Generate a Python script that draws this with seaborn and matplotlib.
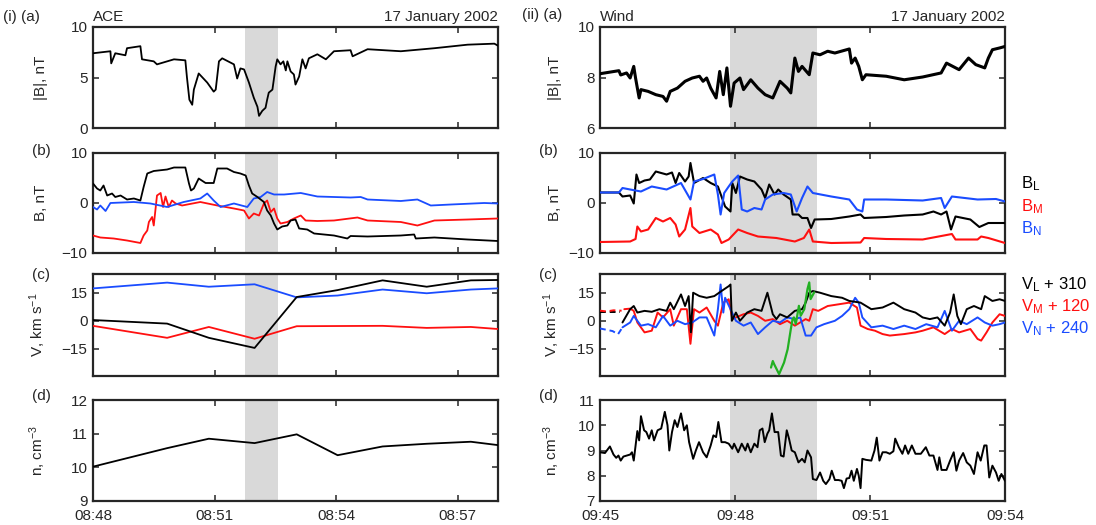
import numpy as np
import pandas as pd
import matplotlib
matplotlib.use("Agg")
import matplotlib.pyplot as plt
import matplotlib.dates as mdates
import seaborn as sns

# ---------------- DATA (minutes after panel start, values) ----------------
ace_start = "2002-01-17 08:48"
wind_start = "2002-01-17 09:45"
ace_shade = [3.76, 4.57]
wind_shade = [2.89, 4.82]

# ACE |B|
ace_b_t = [0.00,0.43,0.45,0.55,0.80,0.84,1.17,1.21,1.50,1.58,
           2.00,2.28,2.32,2.38,2.45,2.49,2.61,2.82,2.98,3.03,
           3.11,3.19,3.48,3.56,3.64,3.73,3.85,3.97,4.06,4.10,
           4.18,4.26,4.30,4.34,4.43,4.51,4.55,4.63,4.70,4.76,
           4.80,4.88,4.96,5.00,5.09,5.17,5.25,5.33,5.54,5.75,
           5.95,6.36,6.41,6.78,7.60,8.43,9.25,9.91,10.0]
ace_b = [7.4,7.6,6.4,7.4,7.2,7.9,8.1,6.8,6.6,6.3,
         6.8,6.7,5.0,2.8,2.3,3.8,5.4,4.5,3.6,3.8,
         6.6,6.9,6.3,4.9,5.9,5.8,4.5,3.0,2.1,1.2,
         1.7,2.0,2.8,3.5,3.8,6.1,6.8,6.3,6.6,5.7,
         6.6,5.6,5.3,4.3,5.1,6.8,5.9,6.9,7.3,6.8,
         7.6,7.7,7.1,7.8,7.6,7.9,8.25,8.35,8.15]

# ACE B components
ace_bl_t = [0,0.10,0.18,0.26,0.35,0.47,0.55,0.68,0.84,1.01,
            1.17,1.25,1.34,1.50,1.83,2.00,2.28,2.37,2.42,2.49,
            2.61,2.78,2.98,3.07,3.31,3.48,3.64,3.77,3.85,3.93,
            4.06,4.22,4.30,4.39,4.47,4.55,4.67,4.80,4.88,5.00,
            5.09,5.29,5.46,5.95,6.28,6.36,6.78,7.60,7.93,7.97,
            8.43,9.25,10.0]
ace_bl = [3.9,2.9,2.5,3.5,1.5,1.9,1.2,1.5,0.7,0.9,
          0.5,3.2,5.9,6.4,6.7,7.1,7.1,3.9,2.5,2.9,
          4.9,4.0,4.0,6.9,6.9,6.2,5.9,5.5,3.5,1.9,
          1.2,0.2,-1.5,-2.5,-4.1,-5.3,-4.7,-4.5,-3.5,-3.3,
          -5.1,-5.3,-6.1,-6.5,-7.1,-6.6,-6.7,-6.5,-6.3,-7.1,
          -6.9,-7.3,-7.6]
ace_bm_t = [0,0.18,0.51,0.84,1.17,1.25,1.34,1.38,1.46,1.50,
            1.54,1.58,1.67,1.73,1.79,1.87,1.95,2.04,2.20,2.65,
            3.07,3.48,3.73,3.85,3.97,4.10,4.22,4.30,4.39,4.47,
            4.55,4.63,4.80,4.96,5.13,5.25,5.54,5.95,6.53,6.78,
            7.60,8.01,8.43,9.25,10.0]
ace_bm = [-6.5,-6.9,-7.1,-7.5,-8.0,-6.5,-5.5,-3.8,-2.8,-4.5,
          -1.5,1.5,2.0,-0.8,1.3,-0.8,0.5,-0.1,-0.5,0.2,
          -0.5,-1.1,-1.5,-3.1,-2.1,-2.5,-0.1,0.5,-1.8,-1.1,
          -3.1,-4.1,-3.8,-3.1,-2.5,-3.5,-3.6,-3.5,-2.9,-3.5,
          -3.8,-4.5,-3.5,-3.3,-3.1]
ace_bn_t = [0,0.10,0.18,0.31,0.43,1.01,1.42,1.83,2.24,2.65,
            2.82,2.98,3.15,3.48,3.81,3.97,4.14,4.30,4.47,4.72,
            5.13,5.54,6.36,6.61,6.78,7.60,8.01,8.34,8.84,9.66,10.0]
ace_bn = [-0.8,-1.3,-0.5,-1.6,0,0.2,-0.1,-0.8,0.2,0.9,
          1.9,0.5,-0.8,-0.1,-0.8,0.9,1.2,2.2,1.7,1.7,
          2.0,1.3,1.1,1.2,0.7,0.4,0.7,-0.5,-0.3,0,-0.1]

# ACE velocity
ace_v_t = [0, 1.83, 2.86, 3.99, 5.03, 6.04, 7.15, 8.24, 9.33, 10.0]
ace_vl = [0.4, -1.5, -9.1, -14.5, 12.7, 16.4, 21.6, 18.2, 21.6, 21.8]
ace_vm = [-2.7, -9.1, -3.3, -9.6, -2.9, -2.8, -2.7, -3.8, -3.3, -4.4]
ace_vn = [17.3, 20.4, 18.2, 19.5, 12.5, 13.5, 16.7, 14.7, 16.7, 17.3]

# ACE density
ace_n = [10.02, 10.57, 10.85, 10.72, 10.98, 10.36, 10.62, 10.70, 10.76, 10.66]

# Wind |B|
wind_b_t = [0,0.42,0.46,0.59,0.67,0.75,0.79,0.83,0.87,0.91,
            1.07,1.24,1.40,1.48,1.56,1.72,1.89,2.05,2.21,2.29,
            2.37,2.46,2.58,2.66,2.74,2.82,2.90,2.98,3.11,3.19,
            3.35,3.51,3.67,3.84,4.00,4.16,4.24,4.33,4.41,4.49,
            4.65,4.73,4.89,5.06,5.22,5.54,5.59,5.67,5.75,5.83,
            5.91,6.36,6.76,7.17,7.58,7.70,7.98,8.19,8.35,8.55,
            8.63,8.72,8.88,9.0]
wind_b = [8.15,8.27,8.1,8.18,7.98,8.44,7.98,7.58,7.19,7.52,
          7.45,7.32,7.25,7.06,7.45,7.58,7.85,7.98,8.05,7.85,
          7.98,7.58,7.19,8.24,7.32,8.38,6.86,7.78,7.98,7.52,
          7.91,7.58,7.32,7.19,7.85,7.58,7.39,8.77,8.24,8.44,
          8.11,8.97,8.9,9.04,8.97,9.13,8.57,8.77,8.44,7.91,
          8.11,8.05,7.91,8.02,8.18,8.57,8.31,8.77,8.51,8.38,
          8.77,9.1,9.17,9.23]

# Wind B components
wind_bl_t = [0,0.42,0.50,0.67,0.75,0.81,0.87,0.99,1.11,1.24,
             1.36,1.48,1.60,1.68,1.76,1.89,1.97,2.01,2.09,2.29,
             2.46,2.62,2.78,2.90,2.94,3.02,3.11,3.27,3.43,3.59,
             3.67,3.76,3.88,3.96,4.08,4.24,4.28,4.41,4.49,4.61,
             4.69,4.77,5.14,5.54,5.79,5.87,6.36,6.76,7.17,7.41,
             7.58,7.70,7.80,7.90,8.23,8.43,8.63,9.0]
wind_bl = [2.1,2.1,1.3,1.5,-0.1,5.7,4.0,4.5,4.7,6.3,
           6.0,5.7,6.1,4.0,6.0,4.3,5.3,8.0,4.0,5.0,
           4.0,3.3,-0.7,-1.7,4.0,2.0,5.3,4.7,4.3,2.7,
           1.0,3.7,1.7,2.7,1.7,0.7,-2.3,-2.3,-3.0,-3.0,
           -5.0,-3.3,-3.2,-2.7,-2.3,-3.0,-2.8,-2.5,-2.3,-1.7,
           -2.3,-1.7,-5.3,-2.7,-3.3,-4.8,-4.0,-4.0]
wind_bm_t = [0,0.67,0.79,0.83,0.91,1.07,1.24,1.40,1.56,1.68,
             1.76,1.89,2.01,2.05,2.21,2.46,2.62,2.70,2.86,3.07,
             3.27,3.51,3.92,4.33,4.53,4.65,4.73,5.14,5.79,5.87,
             6.36,7.17,7.82,7.90,8.39,8.47,8.63,9.0]
wind_bm = [-7.8,-7.7,-7.2,-4.7,-5.7,-5.3,-3.0,-3.7,-3.0,-4.3,
           -6.7,-5.3,-1.0,-4.7,-6.0,-5.3,-6.3,-8.0,-7.3,-5.3,
           -6.0,-6.7,-7.0,-7.7,-7.0,-5.3,-7.7,-8.0,-7.9,-7.0,
           -7.2,-7.3,-6.2,-7.3,-7.3,-6.7,-7.0,-8.0]
wind_bn_t = [0,0.42,0.50,0.67,0.91,1.15,1.48,1.80,2.01,2.09,
             2.29,2.54,2.62,2.68,2.76,2.86,2.94,3.07,3.15,3.27,
             3.43,3.59,3.67,3.84,4.08,4.24,4.37,4.49,4.61,4.73,
             5.14,5.54,5.71,5.83,5.87,6.36,7.17,7.58,7.66,7.82,
             8.39,8.80,9.0]
wind_bn = [2.1,2.1,3.0,2.7,2.3,3.3,2.7,4.0,0.7,4.3,
           4.8,5.7,1.7,-2.3,2.0,3.3,4.3,5.5,-1.3,-1.7,
           -1.0,-1.3,0.7,1.7,2.0,1.7,-1.7,1.0,3.3,2.0,
           1.3,0.7,-1.3,-1.7,0.7,0.7,0.5,1.0,-1.0,1.3,
           0.7,0.8,0.3]

# Wind velocity (offsets removed), dashed gap segments first
wind_gap_l_t = [0.0, 0.45]
wind_gap_l = [4.5, 4.5]
wind_gap_m_t = [0.0, 0.15, 0.30, 0.48]
wind_gap_m = [5.4, 5.0, 5.6, 5.4]
wind_gap_n_t = [0.0, 0.28, 0.40, 0.50]
wind_gap_n = [-4.1, -5.5, -7.2, -3.5]

wind_vl_t = [0.50,0.67,0.75,0.83,0.99,1.15,1.32,1.48,1.56,1.64,
             1.80,1.89,1.97,2.02,2.07,2.21,2.37,2.54,2.70,2.86,
             2.90,2.93,3.02,3.11,3.27,3.43,3.59,3.72,3.84,3.92,
             4.00,4.16,4.33,4.49,4.57,4.65,4.73,4.89,5.14,5.38,
             5.54,5.79,6.03,6.28,6.52,6.76,7.01,7.17,7.33,7.50,
             7.66,7.78,7.86,7.94,8.02,8.15,8.31,8.47,8.55,8.72,
             8.88,9.0]
wind_vl = [-0.9,6.2,7.9,4.4,5.3,4.8,6.2,5.3,9.7,6.2,
           14.1,7.9,13.2,-6.2,15.0,13.2,12.3,13.2,15.9,18.5,
           19.4,0,4.4,0,4.4,6.2,5.3,15.0,3.5,0.9,
           3.5,1.8,5.3,6.2,9.7,15.0,15.9,15.0,13.2,12.3,
           10.6,9.7,6.2,7.1,9.7,6.2,4.4,1.8,0.9,1.8,
           -2.6,4.4,14.1,2.6,-1.8,6.2,7.9,6.2,13.2,10.6,
           11.5,10.6]
wind_vm_t = [0.54,0.67,0.75,0.83,0.99,1.15,1.28,1.40,1.56,1.64,
             1.80,1.93,2.01,2.09,2.21,2.37,2.54,2.62,2.74,2.86,
             2.94,3.02,3.19,3.35,3.51,3.67,3.84,4.00,4.16,4.33,
             4.57,4.65,4.73,4.85,5.06,5.30,5.54,5.71,5.79,5.95,
             6.11,6.28,6.44,6.76,7.01,7.17,7.41,7.66,7.82,7.98,
             8.23,8.39,8.47,8.59,8.72,8.88,9.0]
wind_vm = [6.2,6.5,5.3,-0.9,-6.2,-5.3,4.4,1.8,6.2,-2.6,
           6.2,6.2,-12.3,6.2,4.4,7.1,0,-2.6,9.7,11.5,
           0.9,1.8,3.5,4.4,2.6,0,0.9,-1.8,0,-2.6,
           0.9,0,6.2,5.3,7.9,8.8,9.7,7.1,-2.6,-4.4,
           -5.3,-7.1,-7.9,-7.1,-6.2,-5.3,-3.5,-7.1,-4.4,-6.2,
           -4.4,-9.7,-10.6,-6.2,-0.9,3.5,2.6]
wind_vn_t = [0.50,0.67,0.75,0.91,1.07,1.24,1.40,1.56,1.72,1.89,
             2.05,2.21,2.37,2.54,2.62,2.68,2.74,2.78,2.90,3.02,
             3.19,3.35,3.51,3.67,3.84,4.00,4.16,4.33,4.45,4.57,
             4.69,4.81,4.98,5.22,5.38,5.54,5.67,5.75,5.83,6.03,
             6.28,6.52,6.76,7.01,7.25,7.50,7.66,7.82,7.98,8.15,
             8.39,8.55,8.72,8.88,9.0]
wind_vn = [-3.5,-0.9,2.6,-2.6,-1.8,-3.5,2.6,-2.6,0,-1.8,
           -0.9,1.8,1.8,-7.9,6.2,19.4,4.4,12.3,6.2,0,
           -2.6,-0.9,-7.1,-3.5,0,-0.9,1.8,0.9,1.8,-7.9,
           -7.9,-3.5,-1.8,0,2.6,6.2,12.3,9.7,1.8,-3.5,
           -2.6,-4.4,-2.6,-4.4,-1.8,-3.5,5.3,-5.3,0,-1.8,
           1.8,-0.9,-2.6,-1.8,-0.9]
wind_green_t = [3.80,3.84,3.87,3.98,4.09,4.17,4.24,4.28,4.31,4.35,
                4.42,4.46,4.54,4.61,4.65,4.68,4.76]
wind_green = [-25.0,-21.5,-23.2,-28.5,-22.3,-15.2,-4.5,0.9,1.8,-1.8,
              8.0,2.7,6.2,16.9,20.5,11.6,15.2]

# Wind density
wind_n_t = [0,0.11,0.22,0.30,0.36,0.41,0.46,0.52,0.67,0.71,
            0.75,0.83,0.87,0.91,0.98,1.03,1.09,1.15,1.20,1.28,
            1.36,1.44,1.50,1.54,1.60,1.66,1.72,1.80,1.87,1.93,
            1.98,2.07,2.13,2.20,2.29,2.37,2.46,2.52,2.58,2.63,
            2.70,2.78,2.86,2.94,2.98,3.07,3.15,3.23,3.28,3.35,
            3.43,3.50,3.55,3.61,3.66,3.72,3.76,3.82,3.88,3.96,
            4.02,4.08,4.15,4.20,4.26,4.33,4.41,4.49,4.55,4.61,
            4.69,4.73,4.81,4.89,4.96,5.02,5.10,5.15,5.22,5.30,
            5.37,5.42,5.48,5.54,5.59,5.64,5.71,5.75,5.79,5.83,
            5.91,6.03,6.10,6.15,6.21,6.28,6.36,6.44,6.52,6.56,
            6.64,6.72,6.78,6.85,6.93,7.01,7.13,7.24,7.32,7.41,
            7.50,7.54,7.59,7.70,7.78,7.86,7.92,7.98,8.07,8.15,
            8.23,8.31,8.39,8.46,8.54,8.59,8.65,8.72,8.80,8.86,
            8.92,9.0]
wind_n = [8.93,8.9,9.16,8.84,8.71,8.8,8.6,8.76,8.84,8.93,
          8.6,9.77,9.4,10.36,9.8,9.73,9.47,9.8,9.4,9.8,
          9.87,10.53,10.0,9.0,9.73,10.2,9.93,10.47,9.8,10.0,
          9.33,8.67,9.0,9.33,8.93,8.73,9.2,9.6,9.53,10.13,
          9.33,9.33,9.27,9.07,9.27,8.93,9.27,9.0,9.27,8.93,
          9.27,9.13,9.8,9.87,9.33,9.67,9.8,10.47,9.73,9.73,
          8.8,8.76,9.8,9.47,9.0,8.93,8.53,8.67,8.53,9.0,
          8.73,7.87,7.83,8.13,7.8,7.67,7.87,8.2,7.83,7.83,
          7.8,7.51,7.89,7.91,8.2,7.8,8.27,8.0,7.51,8.67,
          8.63,8.6,9.0,9.51,8.6,8.93,8.93,8.87,8.97,9.47,
          9.13,8.87,9.2,8.87,9.2,8.87,8.87,9.13,8.8,8.8,
          8.23,8.73,8.23,8.23,8.6,8.93,8.2,8.6,8.9,8.53,
          8.4,8.07,8.93,8.6,9.2,9.2,7.93,8.4,8.13,7.8,
          8.07,7.8]

# ---------------- STYLE ----------------
sns.set_style("ticks")
plt.rcParams["font.family"] = ["Liberation Sans", "DejaVu Sans"]
plt.rcParams["mathtext.fontset"] = "custom"
plt.rcParams["mathtext.rm"] = "Liberation Sans"
plt.rcParams["mathtext.it"] = "Liberation Sans:italic"
plt.rcParams["font.size"] = 11

BLACK = "#000000"
RED = "#ff1010"
BLUE = "#1a4cff"
GREEN = "#22b022"
SHADE = "#d9d9d9"

W, H = 1096, 525
fig = plt.figure(figsize=(W / 100, H / 100), dpi=100)

rows = [(27, 128), (153, 253), (274, 376), (400, 501)]
cols = [(93, 498), (600, 1005)]


def make_ax(ci, ri):
    l, r = cols[ci]
    t, b = rows[ri]
    return fig.add_axes([l / W, 1 - b / H, (r - l) / W, (b - t) / H])


def tt(start, mins):
    return pd.Timestamp(start) + pd.to_timedelta(np.asarray(mins, dtype=float), unit="m")


def line(ax, start, t, v, color, lw=1.3, ls="-"):
    sns.lineplot(x=tt(start, t), y=np.asarray(v, dtype=float), ax=ax, color=color,
                 linewidth=lw, linestyle=ls, estimator=None, sort=False, zorder=3)


def style(ax, start, dur, shade, ylim, yticks, bottom):
    t0 = pd.Timestamp(start)
    ax.set_xlim(t0, t0 + pd.Timedelta(minutes=dur))
    ax.axvspan(*tt(start, shade), color=SHADE, lw=0, zorder=0)
    ax.set_ylim(*ylim)
    ax.set_yticks(yticks)
    ax.xaxis.set_major_locator(mdates.MinuteLocator(byminute=range(0, 60, 3)))
    ax.xaxis.set_major_formatter(mdates.DateFormatter("%H:%M"))
    ax.tick_params(direction="in", top=True, right=True, length=4, width=1.1,
                   labelsize=11, pad=4)
    ax.tick_params(axis="x", labelbottom=bottom, pad=6)
    for s in ax.spines.values():
        s.set_linewidth(1.6)
        s.set_visible(True)
    ax.set_xlabel("")


ylabels = ["|B|, nT", "B, nT", r"V, km s$^{-1}$", r"n, cm$^{-3}$"]

# ---------------- ACE (left) ----------------
axs = [make_ax(0, r) for r in range(4)]
line(axs[0], ace_start, ace_b_t, ace_b, BLACK)
line(axs[1], ace_start, ace_bm_t, ace_bm, RED)
line(axs[1], ace_start, ace_bn_t, ace_bn, BLUE)
line(axs[1], ace_start, ace_bl_t, ace_bl, BLACK)
line(axs[2], ace_start, ace_v_t, ace_vn, BLUE)
line(axs[2], ace_start, ace_v_t, ace_vm, RED)
line(axs[2], ace_start, ace_v_t, ace_vl, BLACK)
line(axs[3], ace_start, ace_v_t, ace_n, BLACK)

ace_ylims = [(0, 10), (-10, 10), (-29.5, 25), (9, 12)]
ace_yticks = [[0, 5, 10], [-10, 0, 10], [-15, 0, 15], [9, 10, 11, 12]]
for i, ax in enumerate(axs):
    style(ax, ace_start, 10, ace_shade, ace_ylims[i], ace_yticks[i], i == 3)
    ax.set_ylabel(ylabels[i], fontsize=11)
    ax.yaxis.set_label_coords(-0.11, 0.5)

axs[0].text(0.0, 1.03, "ACE", transform=axs[0].transAxes, ha="left", va="bottom", fontsize=11)
axs[0].text(1.0, 1.03, "17 January 2002", transform=axs[0].transAxes, ha="right", va="bottom", fontsize=11)

# ---------------- Wind (right) ----------------
axw = [make_ax(1, r) for r in range(4)]
line(axw[0], wind_start, wind_b_t, wind_b, BLACK, lw=2.2)
line(axw[1], wind_start, wind_bl_t, wind_bl, BLACK, lw=1.5)
line(axw[1], wind_start, wind_bn_t, wind_bn, BLUE, lw=1.5)
line(axw[1], wind_start, wind_bm_t, wind_bm, RED, lw=1.5)
line(axw[2], wind_start, wind_gap_l_t, wind_gap_l, BLACK, lw=1.4, ls=(0, (3, 2)))
line(axw[2], wind_start, wind_gap_m_t, wind_gap_m, RED, lw=1.4, ls=(0, (3, 2)))
line(axw[2], wind_start, wind_gap_n_t, wind_gap_n, BLUE, lw=1.4, ls=(0, (3, 2)))
line(axw[2], wind_start, wind_vm_t, wind_vm, RED, lw=1.4)
line(axw[2], wind_start, wind_vn_t, wind_vn, BLUE, lw=1.4)
line(axw[2], wind_start, wind_vl_t, wind_vl, BLACK, lw=1.4)
line(axw[2], wind_start, wind_green_t, wind_green, GREEN, lw=1.6)
line(axw[3], wind_start, wind_n_t, wind_n, BLACK, lw=1.4)

wind_ylims = [(6, 10), (-10, 10), (-29.5, 25), (7, 11)]
wind_yticks = [[6, 8, 10], [-10, 0, 10], [-15, 0, 15], [7, 8, 9, 10, 11]]
for i, ax in enumerate(axw):
    style(ax, wind_start, 9, wind_shade, wind_ylims[i], wind_yticks[i], i == 3)
    ax.set_ylabel(ylabels[i], fontsize=11)
    ax.yaxis.set_label_coords(-0.093, 0.5)

axw[0].text(0.0, 1.03, "Wind", transform=axw[0].transAxes, ha="left", va="bottom", fontsize=11)
axw[0].text(1.0, 1.03, "17 January 2002", transform=axw[0].transAxes, ha="right", va="bottom", fontsize=11)

# ---------------- panel labels ----------------
def ftext(x, y, s, size=11, **kw):
    fig.text(x / W, 1 - y / H, s, va="center", fontsize=size, **kw)

ftext(3, 17, "(i) (a)")
for lab, y in zip(["(b)", "(c)", "(d)"], [151, 275, 396]):
    ftext(32, y, lab)
ftext(522, 15, "(ii) (a)")
for lab, y in zip(["(b)", "(c)", "(d)"], [151, 275, 396]):
    ftext(539, y, lab)

# ---------------- component labels ----------------
ftext(1021, 184, r"$\mathrm{B_L}$", size=12, color=BLACK)
ftext(1021, 207, r"$\mathrm{B_M}$", size=12, color=RED)
ftext(1021, 229, r"$\mathrm{B_N}$", size=12, color=BLUE)
ftext(1021, 285, r"$\mathrm{V_L}$ + 310", size=12, color=BLACK)
ftext(1021, 307, r"$\mathrm{V_M}$ + 120", size=12, color=RED)
ftext(1021, 329, r"$\mathrm{V_N}$ + 240", size=12, color=BLUE)

fig.savefig("out.png", dpi=100)
